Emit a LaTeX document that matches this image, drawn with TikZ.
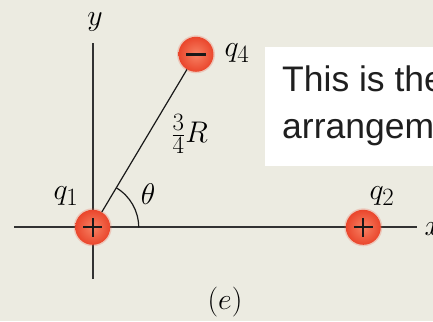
\RequirePackage{fix-cm}
\documentclass[tikz,border=0pt]{standalone}
\usepackage{fontspec}
\newfontfamily\arialfont{Liberation Sans}
\definecolor{bg}{RGB}{236,235,225}
\definecolor{axisc}{RGB}{50,50,50}
\definecolor{chargeIn}{RGB}{247,130,100}
\definecolor{chargeOut}{RGB}{234,70,44}
\definecolor{halo}{RGB}{238,95,70}
\tikzset{
  charge/.style={circle, minimum size=35pt, inner sep=0pt, shading=radial,
    inner color=chargeIn, outer color=chargeOut},
  haloc/.style={circle, minimum size=38pt, inner sep=0pt, fill=halo, fill opacity=0.25},
  signline/.style={line width=2.3pt, black!90},
  axisline/.style={line width=1.6pt, axisc},
  thinline/.style={line width=1.2pt, black!90},
  lab/.style={inner sep=0pt, font=\fontsize{24.88}{28}\selectfont, scale=1.2, transform shape},
  boxtext/.style={inner sep=0pt, anchor=base west, font=\arialfont\fontsize{35.5}{40}\selectfont, text=black!88}
}
\begin{document}
\begin{tikzpicture}[x=1pt,y=1pt]
\clip (0,0) rectangle (433,321);
\fill[bg] (0,0) rectangle (433,321);
% white box
\fill[white] (265,155) rectangle (445,274.3);
\node[boxtext] (t1) at (282,229) {This is the};
\node[boxtext] (t2) at (282,182) {arrangement};
% axes
\coordinate (xl) at (14,93.7);
\coordinate (xr) at (416.7,93.7);
\coordinate (yt) at (92.7,277.7);
\coordinate (yb) at (92.7,42);
\draw[axisline] (xl) -- (xr);
\draw[axisline] (yb) -- (yt);
% charges
\node[haloc] at (92.7,93.7) {};
\node[haloc] at (363.3,93.7) {};
\node[haloc] at (196,266.7) {};
\node[charge] (q1) at (92.7,93.7) {};
\node[charge] (q2) at (363.3,93.7) {};
\node[charge] (q4) at (196,266.7) {};
\draw[signline] ([xshift=-9.5pt]q1.center) -- ([xshift=9.5pt]q1.center);
\draw[signline] ([yshift=-9.5pt]q1.center) -- ([yshift=9.5pt]q1.center);
\draw[signline] ([xshift=-9.5pt]q2.center) -- ([xshift=9.5pt]q2.center);
\draw[signline] ([yshift=-9.5pt]q2.center) -- ([yshift=9.5pt]q2.center);
\draw[line width=3pt, black!90] ([xshift=-10pt]q4.center) -- ([xshift=10pt]q4.center);
% connecting line and angle
\draw[thinline] (q1) -- (q4);
\draw[thinline] ([shift={(0:46pt)}]q1.center) arc[start angle=0, end angle=59.15, radius=46pt];
% labels
\node[lab] (ly) at (95,299) {$y$};
\node[lab] (lx) at (433,92) {$x$};
\node[lab] (lq1) at (66,125) {$q_1$};
\node[lab] (lq2) at (382,125) {$q_2$};
\node[lab] (lq4) at (237,268) {$q_4$};
\node[lab] (lth) at (148,127) {$\theta$};
\node[lab] (lR) at (189.5,187) {$\frac{3}{4}R$};
\node[lab] (le) at (225,19) {$(e)$};
\end{tikzpicture}
\end{document}
